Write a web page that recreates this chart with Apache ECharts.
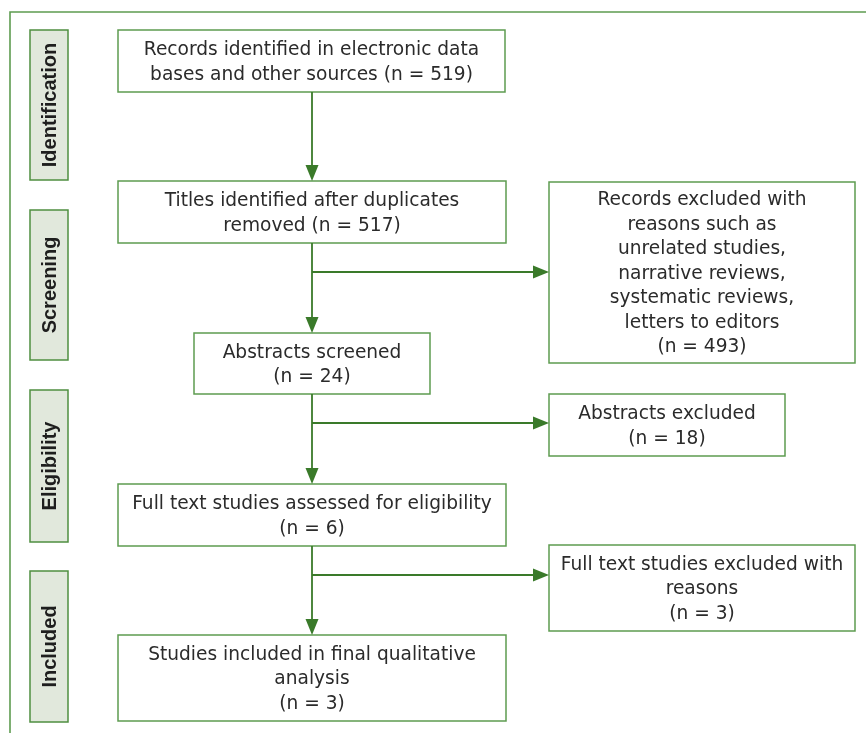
<!DOCTYPE html>
<html><head><meta charset="utf-8">
<script src="https://cdn.jsdelivr.net/npm/echarts@6/dist/echarts.min.js"></script>
<style>html,body{margin:0;padding:0;background:#fff}#c{width:866px;height:733px}</style>
</head><body><div id="c"></div>
<script>
// ---- data ----
const phases = ['Identification', 'Screening', 'Eligibility', 'Included'];
const boxLabels = [
  'Records identified in electronic data\nbases and other sources',
  'Titles identified after duplicates\nremoved',
  'Records excluded with\nreasons such as\nunrelated studies,\nnarrative reviews,\nsystematic reviews,\nletters to editors',
  'Abstracts screened',
  'Abstracts excluded',
  'Full text studies assessed for eligibility',
  'Full text studies excluded with\nreasons',
  'Studies included in final qualitative\nanalysis'
];
const counts = [519, 517, 493, 24, 18, 6, 3, 3];
const countOnSameLine = [true, true, false, false, false, false, false, false];
const flowSteps = [[0, 1], [1, 3], [3, 5], [5, 7]];   // main vertical flow
const exclusions = [[1, 2], [3, 4], [5, 6]];          // branch to excluded box

// ---- layout (pixel-space of a hidden 866x733 scale) ----
const boxRect = [[118,30,505,92],[118,181,506,243],[549,182,855,363],[194,333,430,394],
                 [549,394,785,456],[118,484,506,546],[549,545,855,631],[118,635,506,721]];
const phaseRect = [[30,30,68,180],[30,210,68,360],[30,390,68,542],[30,571,68,722]];
const flowX = 312;
const branchY = [272, 423, 575];

const boxText = boxLabels.map((t, i) => t + (countOnSameLine[i] ? ' ' : '\n') + '(n = ' + counts[i] + ')');

const ARROW = '#3a7a2a', BORDER = '#5e9c50', TEXT = '#2b2b2b';
const MAIN_FONT = '18.6px "DejaVu Sans"';

function arrowHead(tip, dir) { // dir: 'down' | 'right'
  const L = 16, W = 6.5;
  let pts;
  if (dir === 'down') pts = [[tip[0], tip[1]], [tip[0] - W, tip[1] - L], [tip[0] + W, tip[1] - L]];
  else pts = [[tip[0], tip[1]], [tip[0] - L, tip[1] - W], [tip[0] - L, tip[1] + W]];
  return { type: 'polygon', shape: { points: pts }, style: { fill: ARROW } };
}

const chart = echarts.init(document.getElementById('c'), null, { renderer: 'canvas' });
chart.setOption({
  animation: false,
  backgroundColor: '#fff',
  grid: { left: 0, right: 0, top: 0, bottom: 0 },
  xAxis: { type: 'value', min: 0, max: 866, show: false },
  yAxis: { type: 'value', min: 0, max: 733, inverse: true, show: false },
  series: [
    { // outer frame
      type: 'custom', data: [[10, 12, 866, 733]],
      renderItem: (p, api) => {
        const a = api.coord([api.value(0), api.value(1)]);
        const b = api.coord([api.value(2), api.value(3)]);
        return { type: 'polyline', shape: { points: [[a[0], b[1]], [a[0], a[1]], [b[0], a[1]]] },
                 style: { stroke: BORDER, lineWidth: 1.6, fill: null } };
      }
    },
    { // phase labels
      type: 'custom', data: phaseRect.map((r, i) => r.concat(i)),
      renderItem: (p, api) => {
        const i = api.value(4);
        const a = api.coord([api.value(0), api.value(1)]);
        const b = api.coord([api.value(2), api.value(3)]);
        return { type: 'group', children: [
          { type: 'rect', shape: { x: a[0], y: a[1], width: b[0] - a[0], height: b[1] - a[1] },
            style: { fill: '#e1e8dc', stroke: '#4f8f40', lineWidth: 1.5 } },
          { type: 'text', x: (a[0] + b[0]) / 2 + 1, y: (a[1] + b[1]) / 2, rotation: Math.PI / 2,
            style: { text: phases[i], font: 'bold 20px "Liberation Sans"', fill: '#1e1e1e',
                     align: 'center', verticalAlign: 'middle' } }
        ] };
      }
    },
    { // boxes
      type: 'custom', data: boxRect.map((r, i) => r.concat(i)),
      renderItem: (p, api) => {
        const i = api.value(4);
        const a = api.coord([api.value(0), api.value(1)]);
        const b = api.coord([api.value(2), api.value(3)]);
        return { type: 'group', children: [
          { type: 'rect', shape: { x: a[0], y: a[1], width: b[0] - a[0], height: b[1] - a[1] },
            style: { fill: '#fff', stroke: BORDER, lineWidth: 1.5 } },
          { type: 'text', x: (a[0] + b[0]) / 2, y: (a[1] + b[1]) / 2 + 1.5,
            style: { text: boxText[i], font: MAIN_FONT, fill: TEXT, lineHeight: 24.5,
                     align: 'center', verticalAlign: 'middle' } }
        ] };
      }
    },
    { // vertical flow arrows
      type: 'custom', data: flowSteps.map(s => [flowX, boxRect[s[0]][3], boxRect[s[1]][1]]),
      renderItem: (p, api) => {
        const a = api.coord([api.value(0), api.value(1)]);
        const b = api.coord([api.value(0), api.value(2)]);
        return { type: 'group', children: [
          { type: 'line', shape: { x1: a[0], y1: a[1], x2: b[0], y2: b[1] - 10 }, style: { stroke: ARROW, lineWidth: 1.8 } },
          arrowHead(b, 'down')
        ] };
      }
    },
    { // exclusion branch arrows
      type: 'custom', data: exclusions.map((e, k) => [flowX, branchY[k], boxRect[e[1]][0]]),
      renderItem: (p, api) => {
        const a = api.coord([api.value(0), api.value(1)]);
        const b = api.coord([api.value(2), api.value(1)]);
        return { type: 'group', children: [
          { type: 'line', shape: { x1: a[0], y1: a[1], x2: b[0] - 10, y2: b[1] }, style: { stroke: ARROW, lineWidth: 1.8 } },
          arrowHead(b, 'right')
        ] };
      }
    }
  ]
});
</script></body></html>
